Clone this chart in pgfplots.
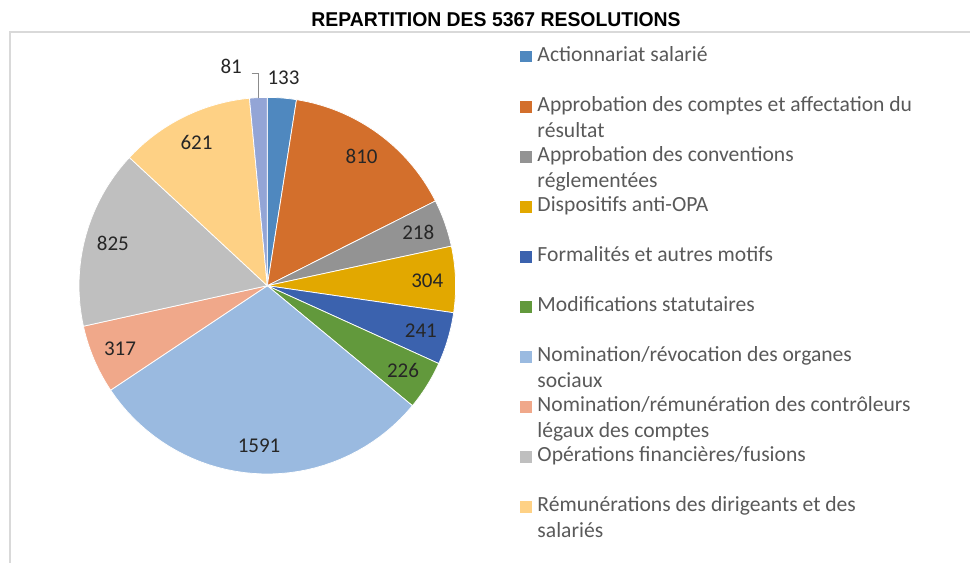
\documentclass[border=0pt]{standalone}
\usepackage{fontspec}
\setmainfont{Carlito}
\newfontfamily\titlefont[FakeStretch=0.97]{Liberation Sans}
\usepackage{pgfplots}
\pgfplotsset{compat=1.18}
\definecolor{c1}{HTML}{4F88BF}
\definecolor{c2}{HTML}{D36F2C}
\definecolor{c3}{HTML}{939393}
\definecolor{c4}{HTML}{E2A800}
\definecolor{c5}{HTML}{3B62AE}
\definecolor{c6}{HTML}{62993C}
\definecolor{c7}{HTML}{9ABAE0}
\definecolor{c8}{HTML}{F0A88A}
\definecolor{c9}{HTML}{BFBFBF}
\definecolor{c10}{HTML}{FED185}
\definecolor{c11}{HTML}{93A5D6}
\definecolor{legtext}{HTML}{595959}
\definecolor{framecol}{HTML}{D9D9D9}
\definecolor{labtext}{HTML}{262626}
\tikzset{pielabel/.style={font=\fontsize{21bp}{25bp}\selectfont, text=labtext, inner sep=0pt, anchor=center}}
\newcommand\LE[1]{\parbox[t][50bp][t]{420bp}{\raggedright\strut #1}}
\gdef\cum{0}
% value, colour, label radius, legend text
\newcommand\slice[4]{%
  \pgfmathsetmacro\sa{\cum/5367*360}%
  \pgfmathsetmacro\newcum{\cum+#1}%
  \pgfmathsetmacro\sb{\newcum/5367*360}%
  \pgfmathsetmacro\midang{(\sa+\sb)/2}%
  \pgfmathsetmacro\lx{#3*sin(\midang)}%
  \pgfmathsetmacro\ly{#3*cos(\midang)}%
  \edef\tmp{\noexpand\addplot[fill=#2, draw=white, line width=0.75bp, domain=\sa:\sb, samples=40, variable=\noexpand\t] ({sin(\noexpand\t)},{cos(\noexpand\t)}) -- (axis cs:0,0) -- cycle;
    \noexpand\node[pielabel] at (axis cs:\lx,\ly) {#1};}%
  \tmp
  \ifx\relax#4\relax\else\addlegendentry{#4}\fi
  \xdef\cum{\newcum}%
}
\newcommand\slicebare[2]{%
  \pgfmathsetmacro\sa{\cum/5367*360}%
  \pgfmathsetmacro\newcum{\cum+#1}%
  \pgfmathsetmacro\sb{\newcum/5367*360}%
  \edef\tmp{\noexpand\addplot[fill=#2, draw=white, line width=0.75bp, domain=\sa:\sb, samples=20, variable=\noexpand\t] ({sin(\noexpand\t)},{cos(\noexpand\t)}) -- (axis cs:0,0) -- cycle;}%
  \tmp
  \xdef\cum{\newcum}%
}
\begin{document}
\begin{tikzpicture}
\useasboundingbox (0,0) rectangle (970bp,563bp);
\begin{axis}[
  x=188.3bp, y=188.3bp,
  anchor=origin, at={(267.3bp,277.3bp)},
  hide axis, clip=false,
  xmin=-1.2, xmax=1.2, ymin=-1.2, ymax=1.2,
  legend cell align=left,
  legend style={at={(axis cs:1.342,1.298)}, anchor=north west, draw=none, fill=none,
    inner sep=0pt, outer sep=0pt, row sep=26.35bp, column sep=4bp,
    font=\fontsize{21.6bp}{26bp}\selectfont, text=legtext,
    cells={anchor=base west, inner sep=0pt}},
  legend image code/.code={\fill[#1, draw=none] (0bp,-1bp) rectangle (11.5bp,10.5bp);},
]
\slice{133}{c1}{1.11}{\LE{Actionnariat salarié}}
\slice{810}{c2}{0.85}{\LE{Approbation des comptes et affectation du\\\strut résultat}}
\slice{218}{c3}{0.85}{\LE{Approbation des conventions\\\strut réglementées}}
\slice{304}{c4}{0.85}{\LE{Dispositifs anti-OPA}}
\slice{241}{c5}{0.85}{\LE{Formalités et autres motifs}}
\slice{226}{c6}{0.85}{\LE{Modifications statutaires}}
\slice{1591}{c7}{0.85}{\LE{Nomination/révocation des organes\\\strut sociaux}}
\slice{317}{c8}{0.85}{\LE{Nomination/rémunération des contrôleurs\\\strut légaux des comptes}}
\slice{825}{c9}{0.85}{\LE{Opérations financières/fusions}}
\slice{621}{c10}{0.85}{\LE{Rémunérations des dirigeants et des\\\strut salariés}}
\slicebare{81}{c11}
\draw[color=black!45, line width=0.75bp] (axis cs:-0.0828,1.128) -- (axis cs:-0.0475,1.128) -- (axis cs:-0.0475,0.999);
\node[pielabel] at (axis cs:-0.1917,1.163) {81};
\end{axis}
\draw[color=framecol, line width=2bp] (10bp,0bp) -- (10bp,531bp) -- (970bp,531bp);
\node[anchor=base, inner sep=0pt] at (496bp,536.3bp) {\titlefont\bfseries\fontsize{20bp}{24bp}\selectfont REPARTITION DES 5367 RESOLUTIONS};
\end{tikzpicture}
\end{document}
